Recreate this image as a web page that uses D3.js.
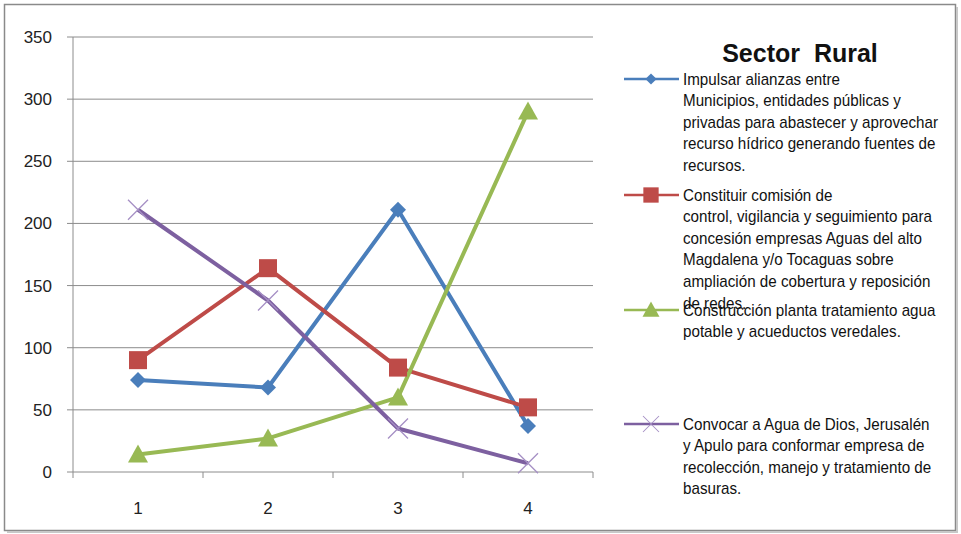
<!DOCTYPE html>
<html><head><meta charset="utf-8">
<script src="https://cdn.jsdelivr.net/npm/d3@7"></script>
<style>body{margin:0;background:#fff}</style>
</head><body>
<script>
const categories = ["1","2","3","4"];
const yTicks = [0,50,100,150,200,250,300,350];
const seriesNames = [
  ["Impulsar alianzas entre","Municipios, entidades públicas y","privadas para abastecer y aprovechar","recurso hídrico generando fuentes de","recursos."],
  ["Constituir comisión de","control, vigilancia y seguimiento para","concesión empresas Aguas del alto","Magdalena y/o Tocaguas sobre","ampliación de cobertura y reposición","de redes."],
  ["Construcción planta tratamiento agua","potable y acueductos veredales."],
  ["Convocar a Agua de Dios, Jerusalén","y Apulo para conformar empresa de","recolección, manejo y tratamiento de","basuras."]
];
const valuesBlue = [74, 68, 211, 37];
const valuesRed = [90, 164, 84, 52];
const valuesGreen = [14, 27, 60, 290];
const valuesPurple = [211, 138, 35, 7];
const colors = ["#4a7ebb","#be4b48","#98b954","#7d60a0"];
const markers = ["diamond","square","triangle","cross"];
const title = "Sector  Rural";

const series = [valuesBlue, valuesRed, valuesGreen, valuesPurple];
const W = 961, H = 534;
const svg = d3.select("body").append("svg").attr("width", W).attr("height", H);
svg.append("rect").attr("x",4.5).attr("y",4.5).attr("width",951).attr("height",526)
  .attr("fill","#fff").attr("stroke","#8a8a8a").attr("stroke-width",1.5);
svg.append("path").attr("d","M957,7V532H7").attr("fill","none").attr("stroke","#c8c8c8").attr("stroke-width",2);

const x0 = 73, x1 = 593, yTop = 37, yBot = 472;
const x = d3.scaleBand().domain(categories).range([x0, x1]);
const y = d3.scaleLinear().domain([0, 350]).range([yBot, yTop]);

svg.append("g").selectAll("line").data(yTicks).join("line")
  .attr("x1", x0 - 6).attr("x2", x1).attr("y1", d => y(d)).attr("y2", d => y(d))
  .attr("stroke", "#8c8c8c").attr("stroke-width", 1);
svg.append("line").attr("x1", x0).attr("x2", x0).attr("y1", yTop).attr("y2", yBot + 6)
  .attr("stroke", "#8c8c8c");
const bounds = categories.map(c => x(c) + x.bandwidth());
svg.append("g").selectAll("line").data(bounds).join("line")
  .attr("x1", d => d).attr("x2", d => d).attr("y1", yBot).attr("y2", yBot + 6)
  .attr("stroke", "#8c8c8c");

const axFont = "'Liberation Sans',Arial,sans-serif";
svg.append("g").selectAll("text").data(yTicks).join("text")
  .attr("x", 52).attr("y", d => y(d)).attr("dy", "0.35em").attr("text-anchor", "end")
  .attr("font-family", axFont).attr("font-size", 17).attr("fill", "#222").text(d => d);
svg.append("g").selectAll("text").data(categories).join("text")
  .attr("x", d => x(d) + x.bandwidth() / 2).attr("y", 508).attr("dy", "0.35em")
  .attr("text-anchor", "middle")
  .attr("font-family", axFont).attr("font-size", 17).attr("fill", "#222").text(d => d);

function drawMarker(g, type, color) {
  if (type === "diamond") {
    g.append("path").attr("d", "M0,-8L8,0L0,8L-8,0Z").attr("fill", color);
  } else if (type === "square") {
    g.append("rect").attr("x", -9).attr("y", -9).attr("width", 18).attr("height", 18).attr("fill", color);
  } else if (type === "triangle") {
    g.append("path").attr("d", "M0,-10L10,8L-10,8Z").attr("fill", color);
  } else {
    g.append("path").attr("d", "M-10,-10L10,10M-10,10L10,-10")
      .attr("stroke", "#a58fc4").attr("stroke-width", 1.3).attr("fill", "none");
  }
}

const line = d3.line().x((d, i) => x(categories[i]) + x.bandwidth() / 2).y(d => y(d));
series.forEach((vals, si) => {
  svg.append("path").datum(vals).attr("d", line).attr("fill", "none")
    .attr("stroke", colors[si]).attr("stroke-width", 4).attr("stroke-linejoin", "round");
});
series.forEach((vals, si) => {
  vals.forEach((v, i) => {
    const g = svg.append("g").attr("transform", `translate(${x(categories[i]) + x.bandwidth() / 2},${y(v)})`);
    drawMarker(g, markers[si], colors[si]);
  });
});

svg.append("text").attr("x", 800).attr("y", 62).attr("text-anchor", "middle")
  .attr("font-family", "'Liberation Sans',Arial,sans-serif").attr("font-weight", "bold")
  .attr("font-size", 25).attr("fill", "#111").style("white-space","pre").text(title);

const legY = [79, 195, 310, 424];
const lineH = 21.6;
const legFont = "'Liberation Sans',Arial,sans-serif";
seriesNames.forEach((lines, si) => {
  const ly = legY[si];
  svg.append("line").attr("x1", 624).attr("x2", 679).attr("y1", ly).attr("y2", ly)
    .attr("stroke", colors[si]).attr("stroke-width", 2.5);
  const g = svg.append("g").attr("transform", `translate(651,${ly})`);
  const s = si === 0 ? 0.7 : si === 3 ? 0.8 : 0.85;
  const gg = g.append("g").attr("transform", `scale(${s})`);
  drawMarker(gg, markers[si], colors[si]);
  const tg = svg.append("g").attr("transform", "translate(683,0) scale(0.95,1)");
  const t = tg.append("text").attr("font-family", legFont).attr("font-size", 16).attr("fill", "#111");
  lines.forEach((ln, k) => {
    t.append("tspan").attr("x", 0).attr("y", ly + k * lineH).attr("dy", "0.35em").text(ln);
  });
});
</script>
</body></html>
